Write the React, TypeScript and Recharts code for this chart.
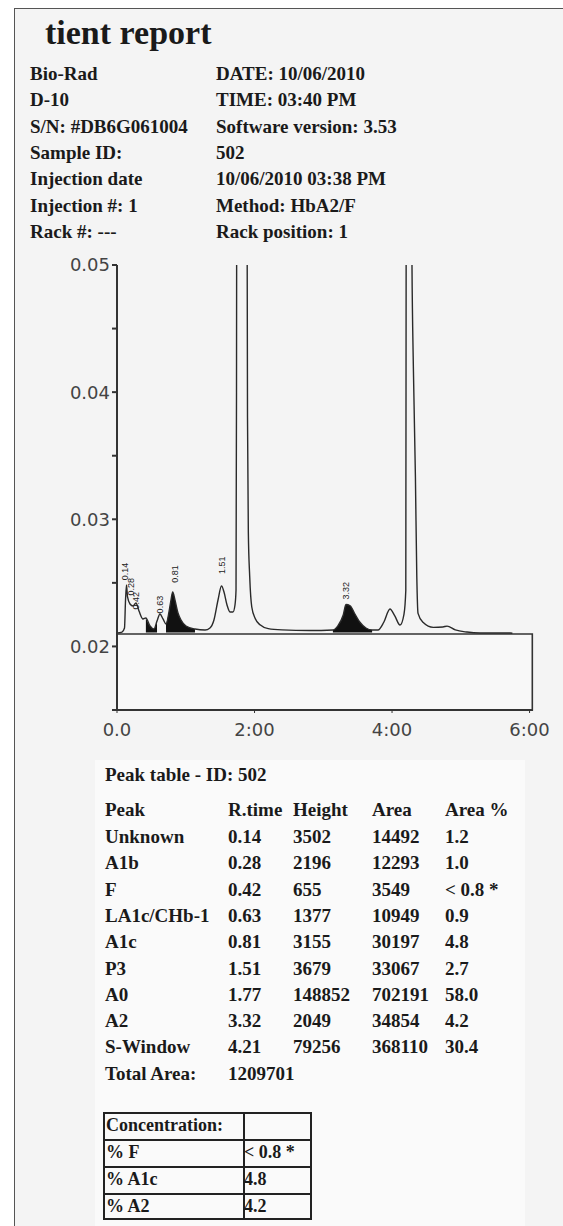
import React from 'react';
import { ComposedChart, Line, Area, Scatter, XAxis, YAxis, ReferenceArea } from 'recharts';

const headerLeft = ['Bio-Rad', 'D-10', 'S/N: #DB6G061004', 'Sample ID:', 'Injection date', 'Injection #: 1', 'Rack #: ---'];
const headerRight = ['DATE: 10/06/2010', 'TIME: 03:40 PM', 'Software version: 3.53', '502', '10/06/2010 03:38 PM', 'Method: HbA2/F', 'Rack position: 1'];

// chromatogram trace: retention time (min) / absorbance
const traceTime = [
  0.0, 0.073, 0.109, 0.124, 0.138, 0.153, 0.189, 0.233, 0.276, 0.32, 0.378, 0.42, 0.48, 0.538, 0.582,
  0.625, 0.669, 0.713, 0.756, 0.785, 0.81, 0.843, 0.887, 0.931, 1.003, 1.134, 1.28, 1.352, 1.41, 1.469,
  1.52, 1.556, 1.6, 1.643, 1.687, 1.716, 1.731, 1.738, 1.745, 1.815, 1.885, 1.898, 1.91, 1.93, 1.96,
  2.01, 2.08, 2.2, 2.4, 2.8, 3.14, 3.21, 3.29, 3.33, 3.39, 3.46, 3.53, 3.62, 3.71, 3.796, 3.88, 3.97,
  4.04, 4.116, 4.174, 4.2, 4.205, 4.25, 4.29, 4.31, 4.34, 4.36, 4.378, 4.45, 4.6, 4.74, 4.8, 4.92,
  5.09, 5.28, 5.72, 5.75,
];
const traceAbs = [
  0.02106, 0.02113, 0.02145, 0.02365, 0.02483, 0.02389, 0.02334, 0.02318, 0.02342, 0.02279, 0.02216, 0.02224, 0.02161, 0.02137, 0.022,
  0.02255, 0.02216, 0.02176, 0.02271, 0.02365, 0.02428, 0.02365, 0.02263, 0.02208, 0.02161, 0.02137, 0.02129, 0.02145, 0.02208, 0.02365,
  0.02475, 0.02428, 0.02326, 0.02271, 0.02271, 0.02326, 0.02444, 0.04, 0.075, 0.175, 0.075, 0.038, 0.029, 0.0255, 0.0231,
  0.0222, 0.0217, 0.0214, 0.0213, 0.02125, 0.02129, 0.0216, 0.02247, 0.0233, 0.0232, 0.02255, 0.02192, 0.02145, 0.02129, 0.02129, 0.0219, 0.02294,
  0.0224, 0.02168, 0.02255, 0.0244, 0.05, 0.105, 0.05, 0.042, 0.0333, 0.0255, 0.0226, 0.0219, 0.0215, 0.02153, 0.0216, 0.0213,
  0.02113, 0.02106, 0.02106, 0.02104,
];

// integrated (black) peak windows
const fillWindows = [[0.42, 0.582], [0.713, 1.134], [3.14, 3.71]];
const fillBase = 0.0211;

// rt labels printed above peaks
const labelText = ['0.14', '0.28', '0.42', '0.63', '0.81', '1.51', '3.32'];
const labelTime = [0.12, 0.2, 0.27, 0.62, 0.84, 1.52, 3.33];
const labelAbs = [0.0252, 0.024, 0.0229, 0.0226, 0.025, 0.0257, 0.0237];

const xTicks = [0, 2, 4, 6];
const xTickLabels = ['0.0', '2:00', '4:00', '6:00'];
const yTicks = [0.015, 0.02, 0.025, 0.03, 0.035, 0.04, 0.045, 0.05];

const peakNames = ['Unknown', 'A1b', 'F', 'LA1c/CHb-1', 'A1c', 'P3', 'A0', 'A2', 'S-Window'];
const peakRTime = ['0.14', '0.28', '0.42', '0.63', '0.81', '1.51', '1.77', '3.32', '4.21'];
const peakHeight = ['3502', '2196', '655', '1377', '3155', '3679', '148852', '2049', '79256'];
const peakArea = ['14492', '12293', '3549', '10949', '30197', '33067', '702191', '34854', '368110'];
const peakAreaPct = ['1.2', '1.0', '< 0.8 *', '0.9', '4.8', '2.7', '58.0', '4.2', '30.4'];
const totalArea = '1209701';

const concLabels = ['% F', '% A1c', '% A2'];
const concValues = ['< 0.8 *', '4.8', '4.2'];

const serif = '"Liberation Serif", "Times New Roman", serif';
const sans = '"DejaVu Sans", Verdana, sans-serif';
const ink = '#1a1a1a';

function T({ x, y, children, size = 19 }: any) {
  return (
    <div style={{
      position: 'absolute', left: x, top: y - 11, lineHeight: '22px', fontSize: size,
      fontFamily: serif, fontWeight: 700, color: ink, whiteSpace: 'nowrap',
    }}>{children}</div>
  );
}

const RtLabel = (props: any) => {
  const { cx, cy, payload } = props;
  return (
    <text x={cx} y={cy} transform={`rotate(-90 ${cx} ${cy})`} textAnchor="start" dominantBaseline="central"
      fontSize={9} fontFamily='"Liberation Sans", Arial, sans-serif' fill="#222">{payload.text}</text>
  );
};

export default function App() {
  const inFill = (t: number) => fillWindows.some(([a, b]) => t >= a && t <= b);
  const data = traceTime.map((t, i) => ({ t, v: traceAbs[i], fillV: inFill(t) ? traceAbs[i] : null }));
  const labels = labelText.map((text, i) => ({ t: labelTime[i], v: labelAbs[i], text }));

  const rowY = (i: number) => 74 + i * 26.3;
  const tblY = (i: number) => 837 + i * 26.3;

  return (
    <div style={{ position: 'absolute', left: 0, top: 0, width: 563, height: 1226, background: '#fff', overflow: 'hidden' }}>
      <div style={{ position: 'absolute', left: 14, top: 8, width: 560, height: 1230, borderLeft: '1px solid #555', borderTop: '1px solid #555', background: '#f4f4f4' }} />
      <div style={{ position: 'absolute', left: 95, top: 760, width: 430, height: 466, background: '#fafafa' }} />

      <div style={{ position: 'absolute', left: 45, top: 14, fontSize: 34, lineHeight: '38px', fontFamily: serif, fontWeight: 700, color: ink }}>tient report</div>
      {headerLeft.map((s, i) => <T key={'l' + i} x={30} y={rowY(i)}>{s}</T>)}
      {headerRight.map((s, i) => <T key={'r' + i} x={216} y={rowY(i)}>{s}</T>)}

      <div style={{ position: 'absolute', left: 0, top: 240 }}>
        <ComposedChart width={563} height={550} data={data} margin={{ top: 25, right: 30, left: 0, bottom: 0 }}>
          <ReferenceArea x1={0} x2={6.04} y1={0.015} y2={0.02098} fill="#f8f8f8" fillOpacity={1} stroke="#333" strokeWidth={1.6} />
          <XAxis dataKey="t" type="number" domain={[0, 6.05]} ticks={xTicks} height={80}
            tickFormatter={(v: number) => xTickLabels[xTicks.indexOf(v)] ?? ''}
            tick={{ fontSize: 18, fontFamily: sans, fill: '#444' }} tickSize={3} tickMargin={10}
            axisLine={{ stroke: '#333', strokeWidth: 2 }} tickLine={{ stroke: '#333' }} allowDataOverflow />
          <YAxis type="number" domain={[0.015, 0.05]} ticks={yTicks} width={117} allowDataOverflow
            tickFormatter={(v: number) => { const k = Math.round(v * 1000); return k % 10 === 0 && k > 15 ? v.toFixed(2) : ''; }}
            tick={{ fontSize: 18, fontFamily: sans, fill: '#444' }} tickSize={5} tickMargin={2}
            axisLine={{ stroke: '#333', strokeWidth: 2 }} tickLine={{ stroke: '#333', strokeWidth: 2 }} />
          <Area dataKey="fillV" type="monotone" baseValue={fillBase} fill="#111" fillOpacity={1} stroke="none" isAnimationActive={false} />
          <Line dataKey="v" type="monotone" stroke="#2a2a2a" strokeWidth={1.4} dot={false} isAnimationActive={false} />
          <Scatter data={labels} dataKey="v" shape={RtLabel} isAnimationActive={false} />
        </ComposedChart>
      </div>

      <T x={105} y={775}>Peak table - ID: 502</T>
      <T x={105} y={810}>Peak</T>
      <T x={228} y={810}>R.time</T>
      <T x={293} y={810}>Height</T>
      <T x={372} y={810}>Area</T>
      <T x={445} y={810}>Area %</T>
      {peakNames.map((n, i) => (
        <React.Fragment key={n}>
          <T x={105} y={tblY(i)}>{n}</T>
          <T x={228} y={tblY(i)}>{peakRTime[i]}</T>
          <T x={293} y={tblY(i)}>{peakHeight[i]}</T>
          <T x={372} y={tblY(i)}>{peakArea[i]}</T>
          <T x={445} y={tblY(i)}>{peakAreaPct[i]}</T>
        </React.Fragment>
      ))}
      <T x={105} y={tblY(9)}>Total Area:</T>
      <T x={228} y={tblY(9)}>{totalArea}</T>

      <div style={{ position: 'absolute', left: 103, top: 1112, width: 209, height: 108, border: '2px solid #222', boxSizing: 'border-box' }}>
        {[0, 1, 2].map((i) => (
          <div key={i} style={{ position: 'absolute', left: 0, right: 0, top: 25 + i * 27, borderTop: '2px solid #222' }} />
        ))}
        <div style={{ position: 'absolute', left: 138, top: 0, bottom: 0, borderLeft: '2px solid #222' }} />
      </div>
      <T x={106} y={1125} size={18}>Concentration:</T>
      {concLabels.map((s, i) => (
        <React.Fragment key={s}>
          <T x={106} y={1152 + i * 27} size={18}>{s}</T>
          <T x={244} y={1152 + i * 27} size={18}>{concValues[i]}</T>
        </React.Fragment>
      ))}
    </div>
  );
}
